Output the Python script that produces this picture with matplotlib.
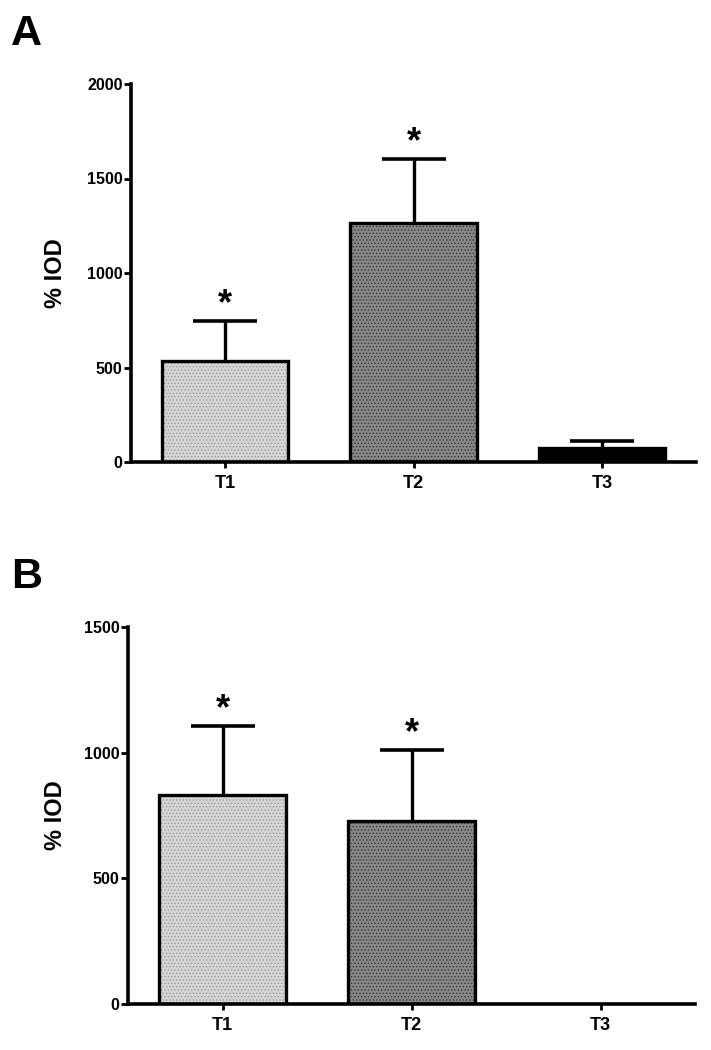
import matplotlib
matplotlib.use('Agg')
import matplotlib.pyplot as plt

plt.rcParams['font.family'] = ['Liberation Sans', 'DejaVu Sans']
plt.rcParams['font.weight'] = 'bold'
plt.rcParams['hatch.linewidth'] = 0.6

groups = ['T1', 'T2', 'T3']

# panel A
a_mean = [534, 1265, 74]
a_err = [212, 338, 37]
a_star = [True, True, False]
a_ticks = [0, 500, 1000, 1500, 2000]

# panel B
b_mean = [832, 727, 0]
b_err = [273, 283, 0]
b_star = [True, True, False]
b_ticks = [0, 500, 1000, 1500]

fills = ['#d6d6d6', '#888888', '#000000']
dots = ['#9a9a9a', '#333333', '#000000']

fig = plt.figure(figsize=(7.11, 10.5), dpi=100)


def panel(rect, mean, err, star, ticks, letter, letter_y):
    ax = fig.add_axes(rect)
    x = list(range(len(groups)))
    for i in x:
        if mean[i] <= 0:
            continue
        ax.bar(i, mean[i], width=0.67, color=fills[i], edgecolor='none', zorder=2)
        ax.bar(i, mean[i], width=0.67, color='none', edgecolor=dots[i],
               hatch='.....', linewidth=0, zorder=2)
        ax.bar(i, mean[i], width=0.67, color='none', edgecolor='black',
               linewidth=2.4, zorder=3)
        eb = ax.errorbar(i, mean[i], yerr=[[0], [err[i]]], fmt='none', ecolor='black',
                         elinewidth=2.4, capsize=23, capthick=2.6, zorder=1)
        eb[1][0].set_visible(False)  # no cap at the bar top
        if star[i]:
            ax.annotate('*', xy=(i, mean[i] + err[i]), xytext=(0, -1),
                        textcoords='offset points', ha='center', va='bottom',
                        fontsize=26, fontweight='bold')
    ax.set_xlim(-0.5, 2.5)
    ax.set_ylim(0, ticks[-1])
    ax.set_yticks(ticks)
    ax.set_xticks(x)
    ax.set_xticklabels(groups)
    for s in ['top', 'right']:
        ax.spines[s].set_visible(False)
    for s in ['left', 'bottom']:
        ax.spines[s].set_linewidth(2.6)
    ax.tick_params(axis='y', length=5, width=2, pad=1, labelsize=11.5)
    ax.tick_params(axis='x', length=4, width=2, pad=5, labelsize=13)
    for lab in ax.get_xticklabels() + ax.get_yticklabels():
        lab.set_fontweight('bold')
    pos = ax.get_position()
    fig.text(56 / 711, (pos.y0 + pos.y1) / 2, '% IOD', rotation=90, ha='center',
             va='center', fontsize=17, fontweight='bold')
    fig.text(11 / 711, letter_y, letter, ha='left', va='baseline',
             fontsize=31, fontweight='bold')
    return ax


panel([131 / 711, 1 - 462 / 1050, 565 / 711, 378 / 1050],
      a_mean, a_err, a_star, a_ticks, 'A', 1 - 45 / 1050)
panel([128 / 711, 1 - 1004 / 1050, 567 / 711, 377 / 1050],
      b_mean, b_err, b_star, b_ticks, 'B', 1 - 588 / 1050)

fig.savefig('out.png', dpi=100)
